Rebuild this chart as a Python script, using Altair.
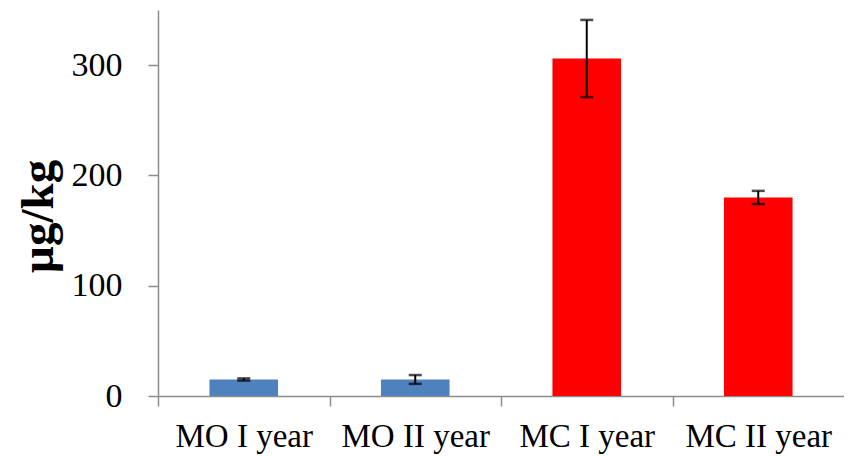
import altair as alt
import pandas as pd

categories = ["MO I year", "MO II year", "MC I year", "MC II year"]
values = [15, 15, 306, 180]
errors = [1, 4, 35, 6]
colors = ["#4F81BD", "#4F81BD", "#FF0000", "#FF0000"]
y_ticks = [0, 100, 200, 300]

df = pd.DataFrame({"cat": categories, "val": values, "err": errors, "col": colors})

W = 686
H = 386
step = W / 4.0

x_enc = alt.X(
    "cat:N",
    sort=categories,
    scale=alt.Scale(paddingInner=0.6, paddingOuter=0.3),
    axis=alt.Axis(
        title=None,
        labelAngle=0,
        labelFontSize=33,
        labelColor="black",
        labelPadding=14,
        tickOffset=-step / 2,
        labelOffset=step / 2,
        tickSize=10,
        tickColor="#8c8c8c",
        tickWidth=1.5,
        domainColor="#8c8c8c",
        domainWidth=1.5,
    ),
)

y_scale = alt.Scale(domain=[0, 350], nice=False)

bars = alt.Chart(df).mark_bar().encode(
    x=x_enc,
    y=alt.Y(
        "val:Q",
        scale=y_scale,
        axis=alt.Axis(
            values=y_ticks,
            title="µg/kg",
            titleFontSize=47,
            titleFontWeight="bold",
            titleColor="black",
            titleAngle=270,
            titleAlign="center",
            titleBaseline="middle",
            titleX=-120,
            titleY=206,
            labelFontSize=34,
            labelColor="black",
            labelPadding=26,
            tickSize=10,
            tickColor="#8c8c8c",
            tickWidth=1.5,
            domainColor="#8c8c8c",
            domainWidth=1.5,
            grid=False,
        ),
    ),
    color=alt.Color("col:N", scale=None),
)

base_err = alt.Chart(df).transform_calculate(
    lo="datum.val - datum.err", hi="datum.val + datum.err"
)

rules = base_err.mark_rule(color="black", strokeWidth=2).encode(
    x=alt.X("cat:N", sort=categories),
    y=alt.Y("lo:Q", scale=y_scale),
    y2="hi:Q",
)
cap_lo = base_err.mark_tick(color="black", thickness=2.5, size=13, orient="horizontal").encode(
    x=alt.X("cat:N", sort=categories),
    y=alt.Y("lo:Q", scale=y_scale),
)
cap_hi = base_err.mark_tick(color="black", thickness=2.5, size=13, orient="horizontal").encode(
    x=alt.X("cat:N", sort=categories),
    y=alt.Y("hi:Q", scale=y_scale),
)

chart = (
    alt.layer(bars, rules, cap_lo, cap_hi)
    .properties(
        width=W,
        height=H,
        autosize=alt.AutoSizeParams(type="none"),
        padding={"left": 150, "top": 2, "right": 0, "bottom": 58},
    )
    .configure(font="Liberation Serif")
    .configure_view(stroke=None)
)

chart.save("out.html", embed_options={"renderer": "svg", "actions": False})
